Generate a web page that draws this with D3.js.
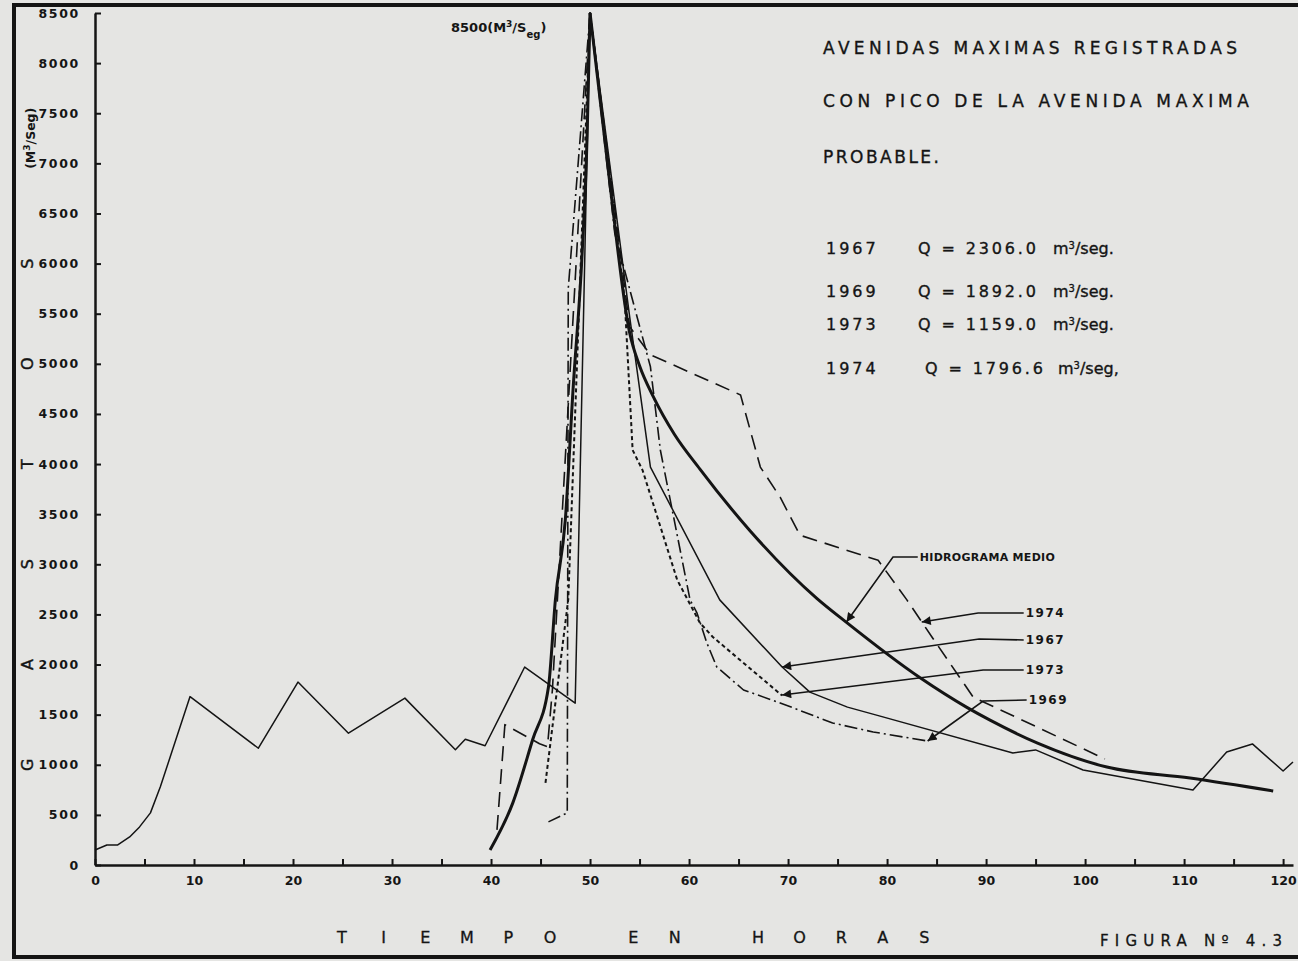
<!DOCTYPE html>
<html>
<head>
<meta charset="utf-8">
<script src="https://cdn.jsdelivr.net/npm/d3@7"></script>
<style>
  body { margin: 0; background: #e5e5e3; }
  svg { display: block; }
  text { font-family: "DejaVu Sans", sans-serif; fill: #151515; }
</style>
</head>
<body>
<div id="chart"></div>
<script>
// axis ticks
const yTicks = [0, 500, 1000, 1500, 2000, 2500, 3000, 3500, 4000, 4500, 5000, 5500, 6000, 6500, 7000, 7500, 8000, 8500];
const xTicks = [0, 5, 10, 15, 20, 25, 30, 35, 40, 45, 50, 55, 60, 65, 70, 75, 80, 85, 90, 95, 100, 105, 110, 115, 120];

// series: [hours, m3/s]
const hidrogramaMedio = [
  [39.9, 150], [42.2, 620], [44.2, 1250], [45.8, 1775], [46.5, 2645], [47.5, 3440],
  [48.3, 4770], [49.2, 6100], [49.7, 7260], [50, 8500],
  [52, 6800], [54.0, 5310], [55.0, 4980], [56.4, 4670], [58.5, 4300], [61.1, 3950],
  [66.2, 3330], [72.9, 2660], [75.9, 2420], [83.3, 1870], [88.1, 1570], [90.4, 1445],
  [95.2, 1216], [102.2, 977], [110.6, 867], [119, 738]
];
const serie1967 = [
  [0, 150], [1.2, 200], [2.3, 200], [3.5, 280], [4.5, 380], [5.6, 520], [6.6, 780],
  [7.6, 1080], [9.6, 1680], [16.5, 1165], [20.5, 1825], [25.6, 1315], [31.3, 1665],
  [36.4, 1150], [37.4, 1255], [39.4, 1190], [43.4, 1975], [48.5, 1615], [50, 8500],
  [54.0, 5470], [56.1, 3970], [63.1, 2645], [69.4, 1975], [72.2, 1725], [76.0, 1575],
  [79.3, 1485], [92.7, 1118], [95.0, 1148], [99.8, 948], [110.9, 748], [114.3, 1128],
  [116.9, 1208], [120.0, 938], [121.0, 1028]
];
const serie1969 = [
  [45.8, 430], [47.7, 520], [47.8, 5750], [50, 8500],
  [52.5, 6300], [56.1, 4970], [57.1, 4140], [60.1, 2645], [60.8, 2515], [61.8, 2215],
  [62.8, 1976], [65.5, 1746], [69.2, 1617], [74.5, 1417], [78.6, 1327], [84.1, 1237]
];
const serie1973 = [
  [45.5, 820], [47.8, 2650], [50, 8500],
  [53.5, 5640], [54.3, 4140], [55.3, 3940], [58.8, 2845], [61.1, 2415], [62.4, 2275],
  [69.4, 1690]
];
const serie1974 = [
  [40.6, 350], [41.4, 1400], [44.9, 1210], [45.7, 1180], [46.2, 1750], [50, 8500],
  [54.0, 5370], [56.1, 5090], [65.2, 4690], [67.2, 3970], [69.2, 3670], [71.2, 3290],
  [79.1, 3040], [82.0, 2645], [84.6, 2265], [88.7, 1675], [102.0, 1058]
];

// leader lines to the curves (hours, m3/s)
const leaderLabels = ['HIDROGRAMA MEDIO', '1974', '1967', '1973', '1969'];
const leaderPaths = [
  [[83.1, 3073], [80.6, 3073], [75.9, 2424]],
  [[93.8, 2514], [89.2, 2514], [83.5, 2424]],
  [[93.8, 2245], [89.3, 2255], [69.4, 1975]],
  [[93.8, 1945], [89.7, 1945], [69.4, 1696]],
  [[94.1, 1646], [89.7, 1636], [84.1, 1237]]
];

// legend block
const legendYears = ['1967', '1969', '1973', '1974'];
const legendQ = ['2306.0', '1892.0', '1159.0', '1796.6'];
const titleLines = ['AVENIDAS MAXIMAS REGISTRADAS', 'CON PICO DE LA AVENIDA MAXIMA', 'PROBABLE.'];

const W = 1298, H = 961;
const ink = '#141414';

const svg = d3.select('#chart').append('svg')
  .attr('width', W)
  .attr('height', H);

const defs = svg.append('defs');
defs.append('marker')
  .attr('id', 'arrow')
  .attr('viewBox', '0 -5 10 10')
  .attr('refX', 10)
  .attr('refY', 0)
  .attr('markerUnits', 'userSpaceOnUse')
  .attr('markerWidth', 11)
  .attr('markerHeight', 9)
  .attr('orient', 'auto')
  .append('path')
  .attr('d', 'M0,-5L10,0L0,5Z')
  .attr('fill', ink);

// outer frame
svg.append('rect')
  .attr('x', 14).attr('y', 5)
  .attr('width', 1310).attr('height', 952)
  .attr('fill', 'none')
  .attr('stroke', ink)
  .attr('stroke-width', 4);

const x = d3.scaleLinear().domain([0, 121]).range([95, 1293]);
const y = d3.scaleLinear().domain([0, 8500]).range([865, 13]);

// axes
const yAxis = d3.axisLeft(y)
  .tickValues(yTicks)
  .tickFormat(d => d)
  .tickSizeInner(-6)
  .tickSizeOuter(0)
  .tickPadding(15);

const gy = svg.append('g')
  .attr('transform', `translate(${x(0)},0)`)
  .call(yAxis);

gy.select('.domain').attr('stroke', ink).attr('stroke-width', 2.5);
gy.selectAll('.tick line').attr('stroke', ink).attr('stroke-width', 2);
gy.selectAll('.tick text')
  .attr('font-size', 12.5)
  .attr('font-weight', 'bold')
  .attr('letter-spacing', 1.7)
  .style('font-family', '"DejaVu Sans", sans-serif')
  .attr('fill', ink);

const xAxis = d3.axisBottom(x)
  .tickValues(xTicks)
  .tickFormat(d => (d % 10 === 0 ? d : ''))
  .tickSizeInner(-6)
  .tickSizeOuter(0)
  .tickPadding(11);

const gx = svg.append('g')
  .attr('transform', `translate(0,${y(0)})`)
  .call(xAxis);

gx.select('.domain').attr('stroke', ink).attr('stroke-width', 2.5);
gx.selectAll('.tick line').attr('stroke', ink).attr('stroke-width', 2);
gx.selectAll('.tick text')
  .attr('font-size', 12.5)
  .attr('font-weight', 'bold')
  .style('font-family', '"DejaVu Sans", sans-serif')
  .attr('fill', ink);

// y title letters
const yTitle = ['G', 'A', 'S', 'T', 'O', 'S'];
svg.append('g').selectAll('text')
  .data(yTitle)
  .enter()
  .append('text')
  .attr('transform', (d, i) => `translate(33,${y(1000 + i * 1000)}) rotate(-90)`)
  .attr('text-anchor', 'middle')
  .attr('font-size', 16)
  .attr('stroke', ink)
  .attr('stroke-width', 0.4)
  .text(d => d);

const unitY = svg.append('text')
  .attr('transform', `translate(35,${y(7250)}) rotate(-90)`)
  .attr('text-anchor', 'middle')
  .attr('font-size', 12.5)
  .attr('font-weight', 'bold');
unitY.append('tspan').text('(M');
unitY.append('tspan').attr('baseline-shift', 'super').attr('font-size', 9).text('3');
unitY.append('tspan').text('/Seg)');

// x title
const xTitle = ['T', 'I', 'E', 'M', 'P', 'O', '', 'E', 'N', '', 'H', 'O', 'R', 'A', 'S'];
svg.append('g').selectAll('text')
  .data(xTitle)
  .enter()
  .append('text')
  .attr('x', (d, i) => 342 + i * 41.6)
  .attr('y', 943)
  .attr('text-anchor', 'middle')
  .attr('font-size', 16)
  .attr('stroke', ink)
  .attr('stroke-width', 0.3)
  .text(d => d);

svg.append('text')
  .attr('x', 1100).attr('y', 946)
  .attr('font-size', 15)
  .attr('stroke', ink)
  .attr('stroke-width', 0.3)
  .attr('textLength', 182)
  .attr('lengthAdjust', 'spacing')
  .text('FIGURA Nº 4.3');

// peak note
const peak = svg.append('text')
  .attr('x', x(50) - 139).attr('y', 32)
  .attr('font-size', 13)
  .attr('font-weight', 'bold');
peak.append('tspan').text('8500(M');
peak.append('tspan').attr('baseline-shift', 'super').attr('font-size', 9).text('3');
peak.append('tspan').text('/S');
peak.append('tspan').attr('baseline-shift', 'sub').attr('font-size', 10).text('eg');
peak.append('tspan').text(')');

// title block
const titleY = [54, 107, 163];
const titleLen = [414, 426, 116];
svg.append('g').selectAll('text')
  .data(titleLines)
  .enter()
  .append('text')
  .attr('x', 823)
  .attr('y', (d, i) => titleY[i])
  .attr('font-size', 17)
  .attr('stroke', ink)
  .attr('stroke-width', 0.35)
  .attr('textLength', (d, i) => titleLen[i])
  .attr('lengthAdjust', 'spacing')
  .text(d => d);

const legendRowY = [254, 297, 330, 374];
const legend = svg.append('g')
  .attr('stroke', ink)
  .attr('stroke-width', 0.35)
  .selectAll('g')
  .data(legendYears)
  .enter()
  .append('g');

legend.append('text')
  .attr('x', 826)
  .attr('y', (d, i) => legendRowY[i])
  .attr('font-size', 16)
  .attr('letter-spacing', 3)
  .text(d => d);

legend.append('text')
  .attr('x', (d, i) => (i === 3 ? 925 : 918))
  .attr('y', (d, i) => legendRowY[i])
  .attr('font-size', 16)
  .attr('textLength', 118)
  .attr('lengthAdjust', 'spacing')
  .text((d, i) => `Q = ${legendQ[i]}`);

const unitText = legend.append('text')
  .attr('x', (d, i) => (i === 3 ? 1058 : 1053))
  .attr('y', (d, i) => legendRowY[i])
  .attr('font-size', 16);
unitText.append('tspan').text('m');
unitText.append('tspan').attr('baseline-shift', 'super').attr('font-size', 10).text('3');
unitText.append('tspan').text((d, i) => (i === 3 ? '/seg,' : '/seg.'));

// curves
const line = d3.line()
  .x(d => x(d[0]))
  .y(d => y(d[1]));

const smooth = d3.line()
  .x(d => x(d[0]))
  .y(d => y(d[1]))
  .curve(d3.curveMonotoneX);

const series = [
  { data: serie1974, width: 1.6, dash: '15,8' },
  { data: serie1969, width: 1.6, dash: '13,4,2,4' },
  { data: serie1973, width: 2, dash: '4,3' },
  { data: serie1967, width: 1.5, dash: null },
];

svg.append('g').selectAll('path')
  .data(series)
  .enter()
  .append('path')
  .attr('d', d => line(d.data))
  .attr('fill', 'none')
  .attr('stroke', ink)
  .attr('stroke-width', d => d.width)
  .attr('stroke-dasharray', d => d.dash)
  .attr('stroke-linejoin', 'round');

// heavy mean hydrograph, rising and falling limbs kept apart for a sharp peak
const peakIdx = hidrogramaMedio.findIndex(d => d[1] === d3.max(hidrogramaMedio, e => e[1]));
const limbs = [hidrogramaMedio.slice(0, peakIdx + 1), hidrogramaMedio.slice(peakIdx)];
svg.append('g').selectAll('path')
  .data(limbs)
  .enter()
  .append('path')
  .attr('d', d => smooth(d))
  .attr('fill', 'none')
  .attr('stroke', ink)
  .attr('stroke-width', 3)
  .attr('stroke-linejoin', 'round');

// leaders
const leaders = svg.append('g').selectAll('g')
  .data(leaderPaths)
  .enter()
  .append('g');

leaders.append('path')
  .attr('d', d => line(d))
  .attr('fill', 'none')
  .attr('stroke', ink)
  .attr('stroke-width', 1.6)
  .attr('marker-end', 'url(#arrow)');

leaders.append('text')
  .attr('x', d => x(d[0][0]) + 2)
  .attr('y', d => y(d[0][1]))
  .attr('dy', '0.36em')
  .attr('font-size', (d, i) => (i === 0 ? 11 : 12))
  .attr('font-weight', 'bold')
  .attr('letter-spacing', (d, i) => (i === 0 ? 0.3 : 1.5))
  .text((d, i) => leaderLabels[i]);
</script>
</body>
</html>
